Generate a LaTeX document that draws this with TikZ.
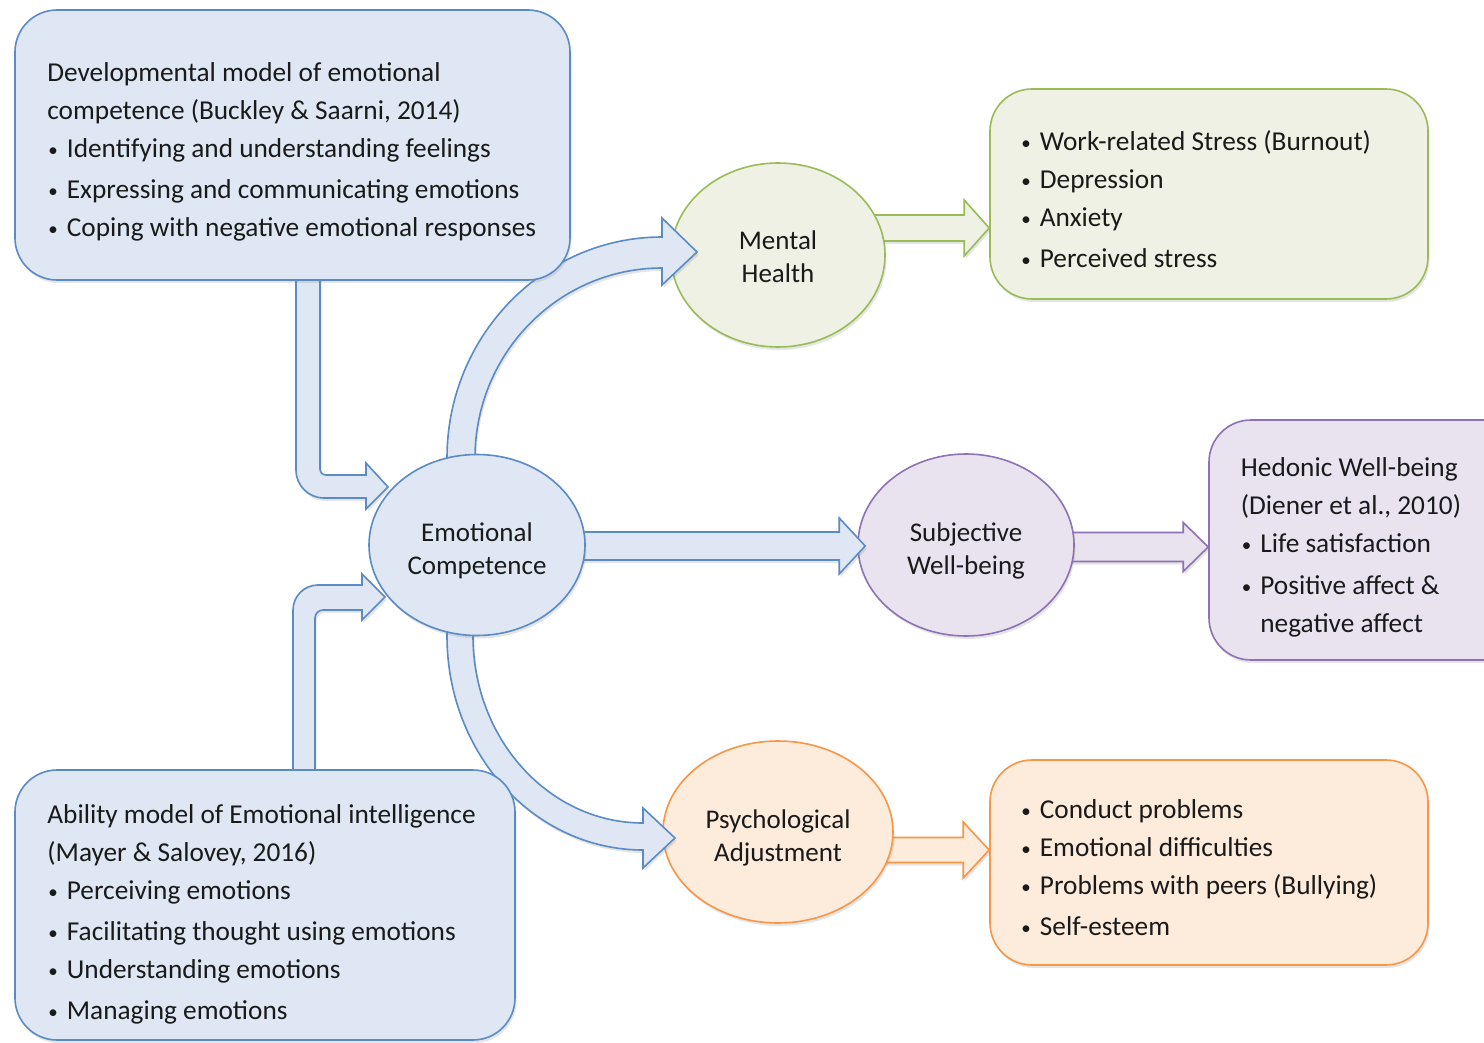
\documentclass[tikz,border=0pt]{standalone}
\usepackage{fontspec}
\setmainfont{Carlito}
\usetikzlibrary{calc,shadows,shapes.geometric}
\definecolor{bfill}{HTML}{DEE7F3}
\definecolor{bline}{HTML}{5B8BC6}
\definecolor{gfill}{HTML}{EEF1E3}
\definecolor{gline}{HTML}{9BBB59}
\definecolor{pfill}{HTML}{E8E3EF}
\definecolor{pline}{HTML}{8E72B3}
\definecolor{ofill}{HTML}{FDEBDC}
\definecolor{oline}{HTML}{F79646}
\definecolor{txt}{HTML}{1A1A1A}
\newcommand\boxfont{\fontsize{27.3}{38}\selectfont}
\newcommand\ovalfont{\fontsize{27}{33}\selectfont}
\newcommand\bul{\makebox[19.5pt][l]{\hspace{1pt}\raisebox{1.5pt}{\fontsize{19}{19}\selectfont •}}}
\newcommand\toprule{\rule{0pt}{25pt}}
\newcommand\ovalrule{\rule{0pt}{31pt}}
\tikzset{
 shad/.style={drop shadow={shadow xshift=1.5pt,shadow yshift=-3pt,opacity=0.2}},
 box/.style={rectangle, rounded corners=42pt, line width=1.6pt, shad},
 boxtext/.style={anchor=north west, align=left, inner sep=0pt, font=\boxfont, text=txt},
 oval/.style={ellipse, line width=1.6pt, shad, align=center, inner sep=0pt, font=\ovalfont, text=txt},
 blk/.style={line width=1.6pt, line join=miter, shad},
 bluearrow/.style={blk, draw=bline, fill=bfill},
}
\newcommand\hblk[6]{%
 \draw[blk,#1] let \p1=(#2), \p2=(#3) in (\x1,\y2+#4) -- (\x2-#6,\y2+#4) -- (\x2-#6,\y2+#5) -- (\x2,\y2) -- (\x2-#6,\y2-#5) -- (\x2-#6,\y2-#4) -- (\x1,\y2-#4) -- cycle;}
\begin{document}
\begin{tikzpicture}[x=1pt,y=-1pt]
\useasboundingbox (0,0) rectangle (1484,1043);
\fill[white] (0,0) rectangle (1484,1043);
\coordinate (cEC) at (477,545);
\coordinate (cMH) at (778,255);
\coordinate (cSW) at (966,545);
\coordinate (cPA) at (778,832);
% outcome boxes
\node[box, draw=gline, fill=gfill, minimum width=438pt, minimum height=210pt] (gb) at (1209,194) {};
\node[boxtext] (gbt) at ($(gb.north west)+(31,37.5)$)
 {\toprule\bul Work-related Stress (Burnout)\\\bul Depression\\\bul Anxiety\\[3pt]\bul Perceived stress};
\node[box, draw=pline, fill=pfill, minimum width=320pt, minimum height=240pt] (pb) at (1369,540) {};
\node[boxtext] (pbt) at ($(pb.north west)+(32.5,32.5)$)
 {\toprule Hedonic Well-being\\(Diener et al., 2010)\\\bul Life satisfaction\\[4pt]\bul Positive affect \&\\\hspace*{19.5pt}negative affect};
\node[box, draw=oline, fill=ofill, minimum width=438pt, minimum height=205pt] (ob) at (1209,862.5) {};
\node[boxtext] (obt) at ($(ob.north west)+(31,34.5)$)
 {\toprule\bul Conduct problems\\\bul Emotional difficulties\\\bul Problems with peers (Bullying)\\[3pt]\bul Self-esteem};
% coloured arrows
\hblk{draw=gline,fill=gfill}{cMH}{$(gb.west)+(0,34)$}{13pt}{28pt}{25pt}
\hblk{draw=pline,fill=pfill}{cSW}{$(pb.west)+(0,7)$}{14.5pt}{24.5pt}{25pt}
\hblk{draw=oline,fill=ofill}{cPA}{$(ob.west)+(0,-12.5)$}{12.5pt}{28pt}{26pt}
% outcome ellipses
\node[oval, draw=gline, fill=gfill, minimum width=214pt, minimum height=184pt] (mh) at (cMH) {\rule{0pt}{23pt}Mental\\Health};
\node[oval, draw=pline, fill=pfill, minimum width=216pt, minimum height=182pt] (swb) at (cSW) {\ovalrule Subjective\\Well-being};
\node[oval, draw=oline, fill=ofill, minimum width=230pt, minimum height=182pt] (pa) at (cPA) {\ovalrule Psychological\\Adjustment};
% blue arrows
\hblk{draw=bline,fill=bfill}{cEC}{$(swb.west)+(8,1)$}{14pt}{28pt}{26pt}
\begin{scope}[shift={(cEC)}]
\draw[bluearrow] (-30,-65) -- (-30,-87) .. controls (-30,-209) and (66.3,-308) .. (185,-308) -- (185,-327) -- (220,-293) -- (185,-260) -- (185,-277) .. controls (81.7,-277) and (-2,-191.9) .. (-2,-87) -- (-2,-65) -- cycle;
\draw[bluearrow] (-30,65) -- (-30,91) .. controls (-30,209.2) and (57.7,305) .. (166,305) -- (166,323) -- (198,293) -- (166,263) -- (166,278) .. controls (72.1,278) and (-4,194.3) .. (-4,91) -- (-4,65) -- cycle;
\draw[bluearrow] (-181,-275) -- (-181,-75) .. controls (-181,-59.5) and (-168.5,-47) .. (-153,-47) -- (-111,-47) -- (-111,-36) -- (-89,-58) -- (-111,-82) -- (-111,-70) -- (-151,-70) .. controls (-154.3,-70) and (-157,-72.7) .. (-157,-76) -- (-157,-275) -- cycle;
\draw[bluearrow] (-184,235) -- (-184,65) .. controls (-184,51.2) and (-172.8,40) .. (-159,40) -- (-115,40) -- (-115,29) -- (-92,52) -- (-115,75) -- (-115,65) -- (-154,65) .. controls (-158.4,65) and (-162,68.6) .. (-162,73) -- (-162,235) -- cycle;
\end{scope}
% central ellipse and source boxes
\node[oval, draw=bline, fill=bfill, minimum width=216pt, minimum height=181pt] (ec) at (cEC) {\ovalrule Emotional\\Competence};
\node[box, draw=bline, fill=bfill, minimum width=555pt, minimum height=270pt] (tl) at (292.5,145) {};
\node[boxtext] (tlt) at ($(tl.north west)+(33,47.5)$)
 {\toprule Developmental model of emotional\\competence (Buckley \& Saarni, 2014)\\\bul Identifying and understanding feelings\\[3pt]\bul Expressing and communicating emotions\\\bul Coping with negative emotional responses};
\node[box, draw=bline, fill=bfill, minimum width=500pt, minimum height=270pt] (bl) at (265,905) {};
\node[boxtext] (blt) at ($(bl.north west)+(33,29.5)$)
 {\toprule Ability model of Emotional intelligence\\(Mayer \& Salovey, 2016)\\\bul Perceiving emotions\\[3pt]\bul Facilitating thought using emotions\\\bul Understanding emotions\\[3pt]\bul Managing emotions};
\end{tikzpicture}
\end{document}
